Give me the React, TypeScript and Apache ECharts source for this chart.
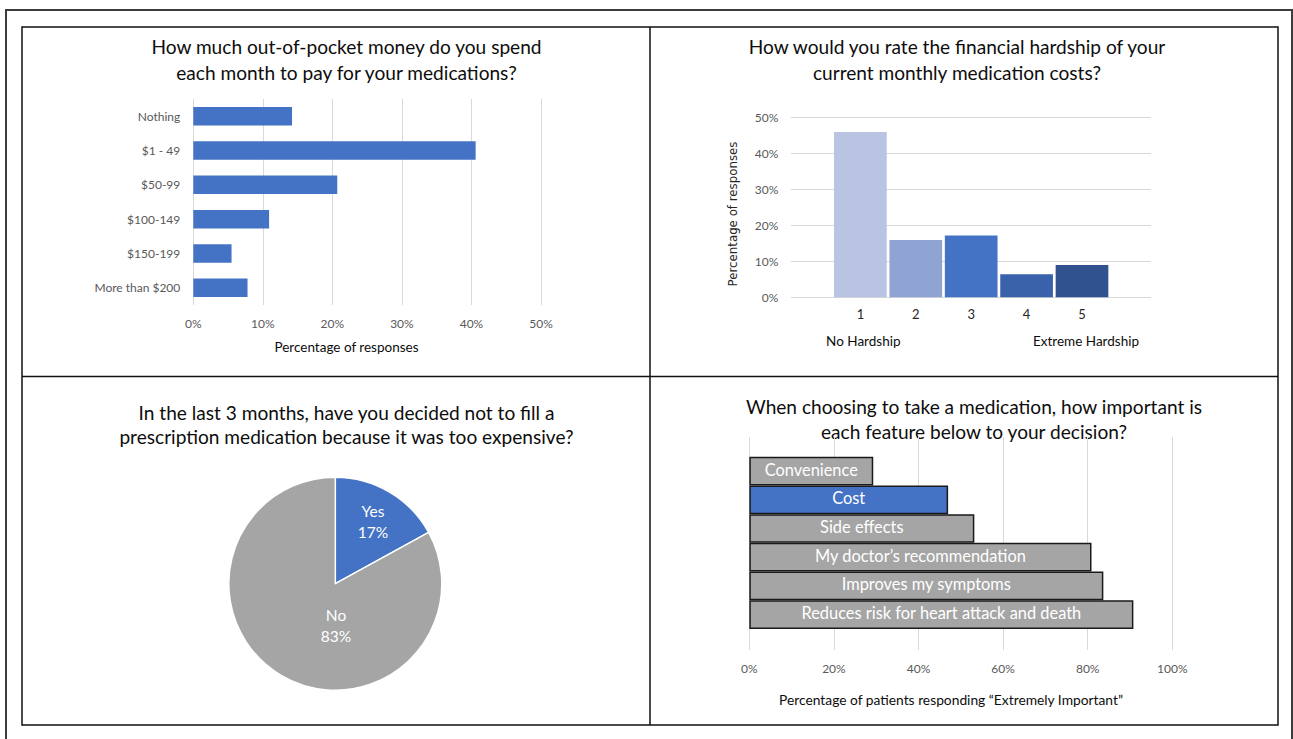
import React, { useEffect, useRef } from 'react';
import * as echarts from 'echarts';

const FONT = 'Lato, "Open Sans", sans-serif';

// Top-left: out-of-pocket spend
const spendCategories = ['Nothing', '$1 - 49', '$50-99', '$100-149', '$150-199', 'More than $200'];
const spendValues = [14.2, 40.6, 20.7, 10.9, 5.5, 7.8];

// Top-right: hardship rating
const hardshipCategories = ['1', '2', '3', '4', '5'];
const hardshipValues = [45.9, 15.9, 17.2, 6.4, 9.0];
const hardshipColors = ['#B9C4E3', '#90A4D4', '#4472C4', '#3A62AB', '#30538F'];

// Bottom-left: skipped prescription
const skipNames = ['Yes', 'No'];
const skipValues = [17, 83];
const skipColors = ['#4472C4', '#A5A5A5'];

// Bottom-right: feature importance
const featureCategories = [
  'Convenience',
  'Cost',
  'Side effects',
  'My doctor\u2019s recommendation',
  'Improves my symptoms',
  'Reduces risk for heart attack and death',
];
const featureValues = [29.3, 47.0, 53.2, 80.9, 83.7, 90.8];
const featureHighlight = 'Cost';

const TITLE_SIZE = 19.1;

const titleText = (text: string, x: number, y: number) => ({
  type: 'text',
  style: {
    text,
    x,
    y,
    fill: '#0d0d0d',
    fontSize: TITLE_SIZE,
    fontFamily: FONT,
    textAlign: 'center',
    align: 'center',
    textVerticalAlign: 'middle',
    verticalAlign: 'middle',
  },
});

const smallText = (text: string, x: number, y: number, size = 13.5, color = '#0d0d0d', font = FONT) => ({
  type: 'text',
  style: {
    text,
    x,
    y,
    fill: color,
    fontSize: size,
    fontFamily: font,
    textAlign: 'center',
    align: 'center',
    textVerticalAlign: 'middle',
    verticalAlign: 'middle',
  },
});

export default function App() {
  const ref = useRef<HTMLDivElement>(null);

  useEffect(() => {
    document.body.style.margin = '0';
    if (!ref.current) return;
    const chart = echarts.init(ref.current, undefined, { renderer: 'svg' });

    const gridLine = { lineStyle: { color: '#D9D9D9', width: 1 } };
    const tickLabel = { color: '#595959', fontSize: 12, fontFamily: FONT };

    const option: any = {
      animation: false,
      backgroundColor: '#ffffff',
      textStyle: { fontFamily: FONT },
      grid: [
        { left: 193.3, width: 347.7, top: 99, height: 206 },
        { left: 791, width: 360, top: 117.3, height: 180 },
        { left: 832.7, width: 277, top: 117.3, height: 180 },
        { left: 749.3, width: 423, top: 437, height: 213 },
        { left: 749.3, width: 423, top: 456.7, height: 172.3 },
      ],
      xAxis: [
        {
          gridIndex: 0, type: 'value', min: 0, max: 50, interval: 10,
          axisLabel: { ...tickLabel, formatter: '{value}%', margin: 12 },
          splitLine: gridLine, axisLine: { show: false }, axisTick: { show: false },
        },
        { gridIndex: 1, type: 'category', data: [''], show: false },
        {
          gridIndex: 2, type: 'category', data: hardshipCategories,
          axisLine: { show: false }, axisTick: { show: false },
          axisLabel: { color: '#262626', fontSize: 13, fontFamily: FONT, margin: 10 },
        },
        {
          gridIndex: 3, type: 'value', min: 0, max: 100, interval: 20,
          axisLabel: { ...tickLabel, formatter: '{value}%', margin: 12 },
          splitLine: gridLine, axisLine: { show: false }, axisTick: { show: false },
        },
        { gridIndex: 4, type: 'value', min: 0, max: 100, show: false },
      ],
      yAxis: [
        {
          gridIndex: 0, type: 'category', data: spendCategories, inverse: true,
          axisLine: { show: false }, axisTick: { show: false },
          axisLabel: { ...tickLabel, margin: 13 },
        },
        {
          gridIndex: 1, type: 'value', min: 0, max: 50, interval: 10,
          axisLabel: { ...tickLabel, formatter: '{value}%', margin: 12.7 },
          splitLine: gridLine, axisLine: { show: false }, axisTick: { show: false },
        },
        { gridIndex: 2, type: 'value', min: 0, max: 50, show: false },
        { gridIndex: 3, type: 'category', data: [''], show: false },
        { gridIndex: 4, type: 'category', data: featureCategories, inverse: true, show: false },
      ],
      series: [
        {
          type: 'bar', xAxisIndex: 0, yAxisIndex: 0, data: spendValues,
          barWidth: 18.5, itemStyle: { color: '#4472C4' },
        },
        {
          type: 'bar', xAxisIndex: 2, yAxisIndex: 2,
          data: hardshipValues.map((v, i) => ({ value: v, itemStyle: { color: hardshipColors[i] } })),
          barWidth: 52.7,
        },
        {
          type: 'pie', center: [335.3, 583.7], radius: 106.5, startAngle: 90, clockwise: true,
          data: skipNames.map((n, i) => ({ name: n, value: skipValues[i], itemStyle: { color: skipColors[i] } })),
          itemStyle: { borderColor: '#ffffff', borderWidth: 1.5 },
          label: {
            show: true, position: 'inside', color: '#ffffff', fontSize: 15.5, fontFamily: FONT,
            lineHeight: 21,
            formatter: (p: any) => `${p.name}\n${p.value}%`,
          },
          labelLine: { show: false },
          labelLayout: (p: any) => (p.dataIndex === 0 ? { x: 373, y: 521 } : { x: 336, y: 625 }),
          emphasis: { disabled: true },
        },
        {
          type: 'bar', xAxisIndex: 4, yAxisIndex: 4,
          data: featureValues.map((v, i) => ({
            value: v,
            itemStyle: { color: featureCategories[i] === featureHighlight ? '#4472C4' : '#A5A5A5' },
          })),
          barCategoryGap: '0%',
          itemStyle: { borderColor: '#1a1a1a', borderWidth: 1.5 },
          label: {
            show: true, position: 'inside', formatter: '{b}', color: '#ffffff',
            fontSize: 16.4, fontFamily: FONT, offset: [0, -2],
          },
        },
      ],
      graphic: [
        { type: 'rect', shape: { x: 6, y: 10, width: 1286, height: 740 }, style: { fill: 'none', stroke: '#3c3c3c', lineWidth: 2 } },
        { type: 'rect', shape: { x: 22, y: 27, width: 1256, height: 698 }, style: { fill: 'none', stroke: '#111111', lineWidth: 1.5 } },
        { type: 'line', shape: { x1: 650, y1: 27, x2: 650, y2: 725 }, style: { stroke: '#111111', lineWidth: 1.5 } },
        { type: 'line', shape: { x1: 22, y1: 376.5, x2: 1278, y2: 376.5 }, style: { stroke: '#111111', lineWidth: 1.5 } },

        titleText('How much out-of-pocket money do you spend', 346.5, 46),
        titleText('each month to pay for your medications?', 346.5, 72),
        smallText('Percentage of responses', 346.5, 347),

        titleText('How would you rate the financial hardship of your', 957, 46),
        titleText('current monthly medication costs?', 957, 72),
        {
          type: 'text', x: 733, y: 214, rotation: Math.PI / 2,
          style: {
            text: 'Percentage of responses', x: 0, y: 0, fill: '#262626', fontSize: 11.8,
            fontFamily: '"DejaVu Sans", sans-serif', textAlign: 'center', align: 'center',
            textVerticalAlign: 'middle', verticalAlign: 'middle',
          },
        },
        smallText('No Hardship', 863.3, 340.7),
        smallText('Extreme Hardship', 1086, 340.7),

        titleText('In the last 3 months, have you decided not to fill a', 346.5, 412.5),
        titleText('prescription medication because it was too expensive?', 346.5, 436.7),

        titleText('When choosing to take a medication, how important is', 974, 406.7),
        titleText('each feature below to your decision?', 974, 431),
        smallText('Percentage of patients responding \u201CExtremely Important\u201D', 951, 699, 13.8),
      ],
    };

    chart.setOption(option);
    return () => chart.dispose();
  }, []);

  return <div ref={ref} style={{ width: 1293, height: 739 }} />;
}
